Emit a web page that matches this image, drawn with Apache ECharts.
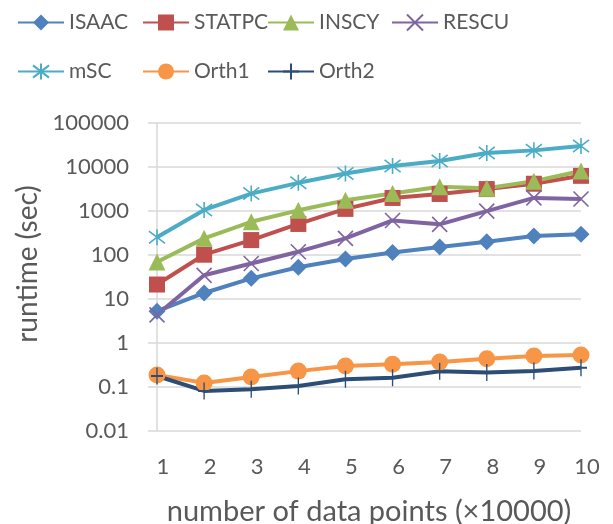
<!DOCTYPE html>
<html>
<head>
<meta charset="utf-8">
<script src="https://cdn.jsdelivr.net/npm/echarts@6/dist/echarts.min.js"></script>
<style>
  html, body { margin: 0; padding: 0; background: #ffffff; }
  #chart { width: 613px; height: 524px; }
</style>
</head>
<body>
<div id="chart"></div>
<script>
// Runtime (seconds, log scale) versus number of data points (x10000)
const categories = ['1', '2', '3', '4', '5', '6', '7', '8', '9', '10'];

const isaac  = [5.2, 13.5, 29, 52, 80, 112, 150, 197, 266, 292];
const statpc = [21, 100, 215, 500, 1100, 1950, 2400, 3100, 4100, 6200];
const inscy  = [68, 235, 560, 1020, 1720, 2450, 3500, 3250, 4700, 8000];
const rescu  = [4.3, 34, 63, 117, 235, 600, 490, 980, 1950, 1850];
const msc    = [250, 1040, 2450, 4300, 7000, 10400, 13500, 20500, 23500, 29500];
const orth1  = [0.185, 0.122, 0.166, 0.226, 0.295, 0.323, 0.364, 0.433, 0.5, 0.525];
const orth2  = [0.175, 0.080, 0.087, 0.104, 0.147, 0.160, 0.225, 0.209, 0.228, 0.27];

const yTicks = ['0.01', '0.1', '1', '10', '100', '1000', '10000', '100000'];

const FONT = 'Lato';
const TEXT = '#595959';
const GRID = '#D9D9D9';

// stroked marker shapes
const SYM_X = 'path://M0 0L10 10M10 0L0 10';
const SYM_STAR = 'path://M0 0L10 10M10 0L0 10M5 -1.5L5 11.5';
const SYM_PLUS = 'path://M5 0L5 10M2 5L8 5';

function lineSeries(name, data, color, symbol, size, stroked) {
  return {
    name: name,
    type: 'line',
    data: data,
    symbol: symbol,
    symbolSize: size,
    showSymbol: true,
    z: 2,
    lineStyle: { color: color, width: 4 },
    itemStyle: stroked
      ? { color: color, borderColor: color, borderWidth: 1.6 }
      : { color: color, borderWidth: 0 },
    emphasis: { disabled: true },
    animation: false
  };
}

const series = [
  lineSeries('ISAAC',  isaac,  '#4F81BD', 'diamond',  17, false),
  lineSeries('STATPC', statpc, '#C0504D', 'rect',     16, false),
  lineSeries('INSCY',  inscy,  '#9BBB59', 'triangle', 17, false),
  lineSeries('RESCU',  rescu,  '#8064A2', SYM_X,      15, true),
  lineSeries('mSC',    msc,    '#4BACC6', SYM_STAR,   16, true),
  lineSeries('Orth1',  orth1,  '#F79646', 'circle',   17, false),
  lineSeries('Orth2',  orth2,  '#2C4D75', SYM_PLUS,   [12, 17], true)
];

// legend laid out in fixed-width columns
const legendColumns = [
  { left: 17,  data: ['ISAAC', 'mSC'] },
  { left: 142, data: ['STATPC', 'Orth1'] },
  { left: 267, data: ['INSCY', 'Orth2'] },
  { left: 391, data: ['RESCU'] }
];

const legends = legendColumns.map(col => ({
  orient: 'vertical',
  left: col.left,
  top: 12,
  padding: 0,
  itemWidth: 46,
  itemHeight: 20,
  itemGap: 28,
  selectedMode: false,
  data: col.data,
  textStyle: { fontFamily: FONT, fontSize: 21, color: TEXT }
}));

const chart = echarts.init(document.getElementById('chart'), null, { renderer: 'canvas' });

chart.setOption({
  backgroundColor: '#ffffff',
  animation: false,
  legend: legends,
  grid: {
    left: 157, right: 32, top: 122.7, bottom: 93.3,
    containLabel: false, outerBoundsMode: 'none'
  },
  // vertical axis title, centred a little above the plot middle
  graphic: [{
    type: 'text',
    x: 28,
    y: 264,
    rotation: Math.PI / 2,
    style: {
      text: 'runtime (sec)',
      fontFamily: FONT,
      fontSize: 28,
      fill: TEXT,
      align: 'center',
      verticalAlign: 'middle'
    }
  }],
  xAxis: {
    type: 'category',
    data: categories,
    boundaryGap: false,
    axisLine: { show: false },
    axisTick: { show: false },
    splitLine: { show: false },
    axisLabel: {
      fontFamily: FONT, fontSize: 22, color: TEXT,
      margin: 25, padding: [0, 0, 0, 12]
    },
    name: 'number of data points (×10000)',
    nameLocation: 'middle',
    nameGap: 66,
    nameTextStyle: { fontFamily: FONT, fontSize: 29, color: TEXT }
  },
  yAxis: {
    type: 'log',
    logBase: 10,
    min: 0.01,
    max: 100000,
    axisLine: { show: true, onZero: false, lineStyle: { color: GRID, width: 1.5 } },
    axisTick: { show: true, inside: false, length: 9, lineStyle: { color: GRID, width: 1.5 } },
    splitLine: { show: true, lineStyle: { color: GRID, width: 1.5 } },
    axisLabel: {
      fontFamily: FONT, fontSize: 22, color: TEXT, margin: 28,
      formatter: function (v) {
        const idx = Math.round(Math.log10(v)) + 2;
        return yTicks[idx] !== undefined ? yTicks[idx] : '';
      }
    }
  },
  series: series
});
</script>
</body>
</html>
